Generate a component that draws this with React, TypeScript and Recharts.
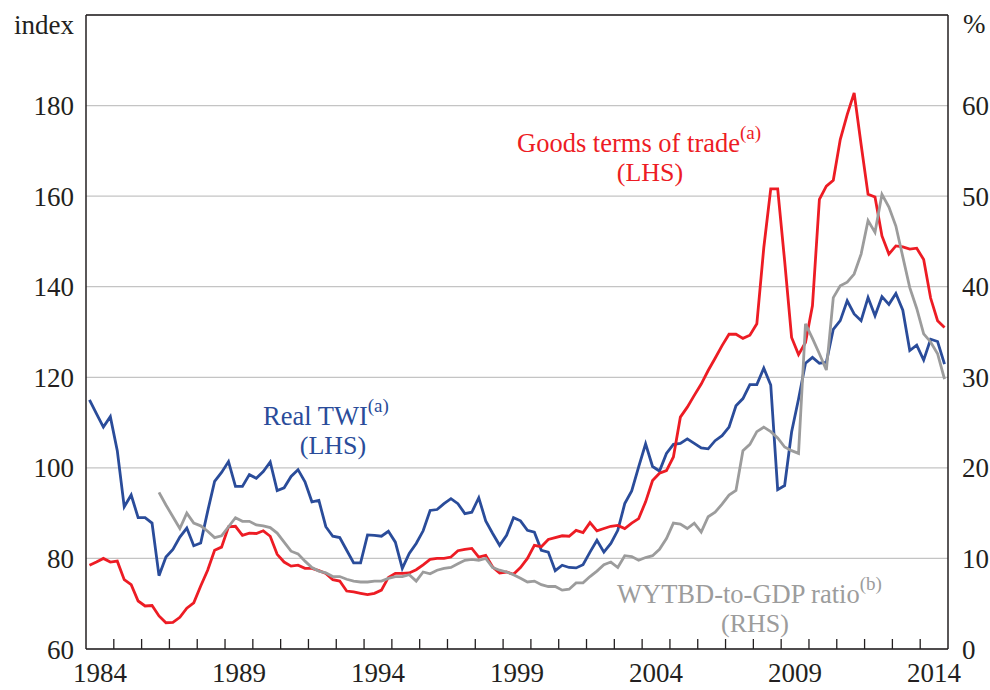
import { LineChart, Line, XAxis, YAxis, CartesianGrid, ReferenceLine } from 'recharts'

const START_YEAR = 1984

// quarterly, 1984Q1 .. 2014Q4
const termsOfTrade = [
  78.5, 79.2, 80, 79.2, 79.4, 75.3, 74.2, 70.6, 69.5, 69.6,
  67.3, 65.8, 65.9, 67, 69, 70.2, 73.9, 77.4, 81.8, 82.5,
  87, 87.1, 85.1, 85.6, 85.5, 86.1, 84.9, 80.9, 79.2, 78.3,
  78.5, 77.8, 77.8, 77.3, 76.7, 75.3, 75, 72.8, 72.6, 72.3,
  72, 72.3, 73, 75.8, 76.7, 76.7, 76.8, 77.5, 78.6, 79.8,
  80, 80, 80.3, 81.7, 82, 82.2, 80.3, 80.7, 78.1, 76.8,
  77, 76.5, 78, 80, 82.9, 82.6, 84.2, 84.6, 85, 84.9,
  86.2, 85.7, 87.9, 86.1, 86.6, 87.1, 87.3, 86.6, 87.8, 88.8,
  92.5, 97.2, 98.8, 99.4, 102.4, 111.2, 113.4, 116, 118.5, 121.5,
  124.2, 127, 129.5, 129.5, 128.6, 129.3, 131.8, 148.6, 161.6, 161.6,
  145.7, 128.8, 125, 127.7, 135.8, 159.3, 162.2, 163.5, 172.5, 178,
  182.8, 171.4, 160.4, 159.8, 151.2, 147.2, 149, 148.8, 148.3, 148.5,
  146, 137.5, 132.5, 131,
]

const realTwi = [
  115, 112, 109, 111.3, 103.8, 91.4, 94, 89, 89, 87.8,
  76.2, 80.3, 82, 84.7, 86.7, 82.8, 83.4, 90.4, 97, 99,
  101.4, 95.9, 95.9, 98.5, 97.7, 99.2, 101.3, 95, 95.6, 98.1,
  99.6, 96.9, 92.5, 92.8, 87, 84.9, 84.6, 81.8, 79, 79,
  85.2, 85.1, 84.9, 86, 83.6, 77.8, 81.1, 83.3, 86.1, 90.6,
  90.8, 92.1, 93.2, 92.1, 89.9, 90.2, 93.4, 88.3, 85.5, 82.9,
  85.1, 89, 88.3, 86.2, 85.8, 81.8, 81.4, 77.3, 78.5, 78,
  77.9, 78.6, 81.4, 84, 81.4, 83.3, 86.2, 92.1, 94.9, 100.2,
  105.3, 100.3, 99.3, 103.2, 105.2, 105.4, 106.4, 105.4, 104.4, 104.2,
  106, 107.1, 109, 113.7, 115.3, 118.4, 118.4, 122, 118.3, 95.2,
  96.1, 107.9, 115.2, 123.1, 124.4, 123.1, 123.3, 130.6, 132.5, 136.9,
  134, 132.5, 137.6, 133.6, 137.8, 136.1, 138.5, 134.8, 125.9, 127.1,
  123.8, 128.4, 127.9, 122.9,
]

const wytbdRatio = [
  null, null, null, null, null, null, null, null, null, null,
  17.3, 15.9, 14.6, 13.3, 15, 13.9, 13.6, 13, 12.3, 12.5,
  13.5, 14.5, 14.1, 14.1, 13.7, 13.6, 13.4, 12.8, 11.8, 10.8,
  10.5, 9.7, 9, 8.6, 8.4, 8, 8, 7.7, 7.5, 7.4,
  7.4, 7.5, 7.5, 7.8, 8, 8, 8.2, 7.5, 8.5, 8.3,
  8.7, 8.9, 9, 9.4, 9.8, 9.9, 9.8, 10, 9, 8.7,
  8.5, 8.2, 7.8, 7.4, 7.5, 7.1, 6.9, 6.9, 6.5, 6.6,
  7.3, 7.3, 8, 8.6, 9.3, 9.6, 9, 10.3, 10.2, 9.8,
  10.1, 10.3, 11, 12.2, 13.9, 13.8, 13.3, 13.9, 12.9, 14.6,
  15.1, 16, 17, 17.5, 21.9, 22.6, 24, 24.5, 24, 23.3,
  22.3, 21.9, 21.6, 35.9, 34.3, 32.6, 30.8, 38.8, 40.1, 40.5,
  41.4, 43.6, 47.3, 46, 50.2, 48.8, 46.7, 43.3, 39.9, 37.6,
  34.8, 33.9, 32.6, 29.8,
]

const leftTicks = [60, 80, 100, 120, 140, 160, 180]
const rightTicks = [0, 10, 20, 30, 40, 50, 60]
const yearLabels = [1984, 1989, 1994, 1999, 2004, 2009, 2014]
const END_YEAR = 2015

const RED = '#ed1c24'
const BLUE = '#2a4c9a'
const GREY = '#9c9c9c'
const INK = '#231f20'
const FONT = "'Liberation Serif', 'Times New Roman', serif"

const data = termsOfTrade.map((v, i) => ({
  t: START_YEAR + (i + 0.5) / 4,
  tot: v,
  twi: realTwi[i],
  wytbd: wytbdRatio[i],
}))

const yearBounds: number[] = []
for (let y = START_YEAR; y <= END_YEAR; y++) yearBounds.push(y)
const xTicks = [...yearBounds, ...yearLabels.map((y) => y + 0.5)].sort((a, b) => a - b)

function YearTick(props: any) {
  const { x, y, payload } = props
  const v = payload.value
  if (Number.isInteger(v)) {
    if (v === START_YEAR || v === END_YEAR) return null
    return <line x1={x} x2={x} y1={y} y2={y - 10} stroke={INK} strokeWidth={1.3} />
  }
  return (
    <text x={x} y={y + 33} textAnchor="middle" fontSize={27} fill={INK} fontFamily={FONT}>
      {Math.floor(v)}
    </text>
  )
}

const tickStyle = { fontSize: 27, fill: INK, fontFamily: FONT }

// series label: main text with a superscript note attached, plus "(LHS)/(RHS)" line below
function SeriesLabel({ x, y, text, note, side, sideX, color }: any) {
  return (
    <g fill={color}>
      <text x={x} y={y} fontSize={26.5}>
        {text}
        <tspan dy={-13} fontSize={19}>{note}</tspan>
      </text>
      <text x={sideX} y={y + 29} textAnchor="middle" fontSize={26}>{side}</text>
    </g>
  )
}

export default function App() {
  return (
    <div style={{ position: 'absolute', left: 0, top: 0, width: 990, height: 690, background: '#fff' }}>
      <LineChart
        width={990}
        height={690}
        data={data}
        margin={{ top: 15, right: 2, bottom: 11, left: 26 }}
      >
        <CartesianGrid yAxisId="left" vertical={false} stroke="#c4c4c4" strokeWidth={1.3} />
        <XAxis
          dataKey="t"
          type="number"
          domain={[START_YEAR, END_YEAR]}
          ticks={xTicks}
          interval={0}
          height={30}
          tickSize={0}
          tickMargin={0}
          tickLine={false}
          axisLine={{ stroke: INK, strokeWidth: 1.5 }}
          tick={<YearTick />}
        />
        <YAxis
          yAxisId="left"
          domain={[60, 200]}
          ticks={leftTicks}
          width={60}
          tickSize={0}
          tickMargin={12}
          tickLine={false}
          axisLine={{ stroke: INK, strokeWidth: 1.5 }}
          tick={tickStyle}
        />
        <YAxis
          yAxisId="right"
          orientation="right"
          domain={[0, 70]}
          ticks={rightTicks}
          width={40}
          tickSize={0}
          tickMargin={14}
          tickLine={false}
          axisLine={{ stroke: INK, strokeWidth: 1.5 }}
          tick={tickStyle}
        />
        <ReferenceLine yAxisId="left" y={200} stroke={INK} strokeWidth={1.5} />
        <Line yAxisId="left" type="linear" dataKey="twi" stroke={BLUE} strokeWidth={2.8} dot={false} isAnimationActive={false} />
        <Line yAxisId="left" type="linear" dataKey="tot" stroke={RED} strokeWidth={2.8} dot={false} isAnimationActive={false} />
        <Line yAxisId="right" type="linear" dataKey="wytbd" stroke={GREY} strokeWidth={2.8} dot={false} isAnimationActive={false} />
      </LineChart>
      <svg width={990} height={690} style={{ position: 'absolute', left: 0, top: 0, pointerEvents: 'none' }} fontFamily={FONT}>
        <text x={74} y={34} textAnchor="end" fontSize={27} fill={INK}>index</text>
        <text x={963} y={33} fontSize={27} fill={INK}>%</text>

        <SeriesLabel x={517} y={152} text="Goods terms of trade" note="(a)" side="(LHS)" sideX={650} color={RED} />
        <SeriesLabel x={263} y={425} text="Real TWI" note="(a)" side="(LHS)" sideX={333} color={BLUE} />
        <SeriesLabel x={617} y={603} text="WYTBD-to-GDP ratio" note="(b)" side="(RHS)" sideX={755} color={GREY} />
      </svg>
    </div>
  )
}
